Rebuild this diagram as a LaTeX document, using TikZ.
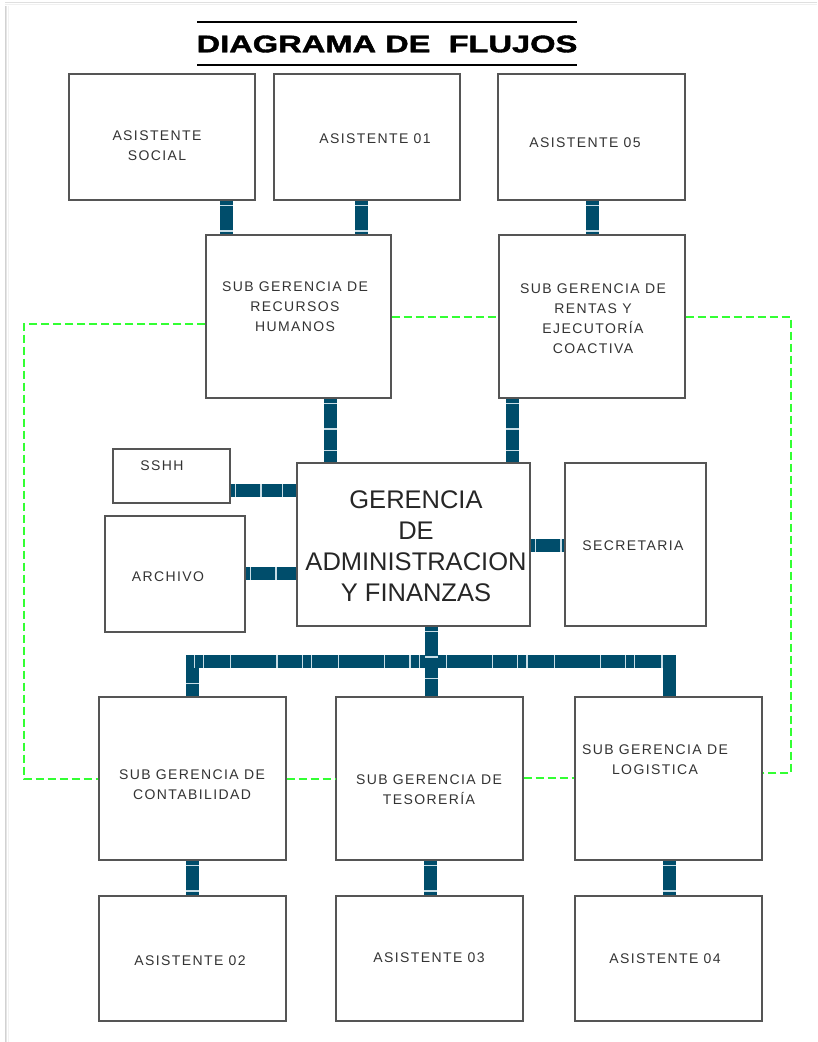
\documentclass[tikz,border=0pt]{standalone}
\usepackage{fontspec}
\setmainfont{Liberation Sans}
\newfontfamily\boxfont{Liberation Sans}[LetterSpace=10]
\newfontfamily\titlefont{Liberation Sans Bold}[FakeBold=1.6]
\usetikzlibrary{calc}
\definecolor{barc}{HTML}{004D6B}
\definecolor{stripe}{HTML}{C8DDE6}
\definecolor{lnk}{HTML}{33FF33}
\definecolor{edge}{HTML}{555555}
\definecolor{txt}{HTML}{333333}
\begin{document}
\begin{tikzpicture}[x=1pt,y=-1pt,
  box/.style={draw=edge, line width=1.3pt, rectangle, inner sep=0pt},
  lbl/.style={font=\boxfont\fontsize{14}{20}\selectfont, text=txt, align=center, inner sep=0pt},
  big/.style={font=\fontsize{25.5}{31}\selectfont, text=black!85, align=center, inner sep=0pt},
  bar/.style={draw=barc, line width=13pt, line join=miter, postaction={draw=stripe, line width=13pt, dash pattern=on 0pt off 4.5pt on 1.2pt off 24pt on 1.2pt off 16pt}},
  bus/.style={draw=barc, line width=13pt, line join=miter, postaction={draw=stripe, line width=13pt, dash pattern=on 0pt off 12pt on 1.2pt off 24pt on 1.2pt off 8pt on 1.2pt off 26pt on 1.2pt off 33pt}},
  link/.style={draw=lnk, line width=1.3pt, dash pattern=on 8pt off 4pt},
  shadow/.style={line width=1pt}]
\useasboundingbox (0,0) rectangle (817,1042);
% page shadow
\draw[shadow, gray!35] (5,6) -- (5,1042);
\draw[shadow, gray!20] (6.5,6) -- (6.5,1042);
\draw[shadow, gray!10] (8,6) -- (8,1042);
\draw[shadow, gray!25] (5,2) -- (817,2);
\draw[shadow, gray!12] (5,4) -- (817,4);
% title
\draw[line width=1.5pt] (197,22) -- (577,22);
\draw[line width=1.5pt] (197,65) -- (577,65);
\node[inner sep=0pt] (title) at (387,44) {\scalebox{1.36}[1]{\fontsize{24}{28}\selectfont\titlefont DIAGRAMA DE\ \ FLUJOS}};
% boxes
\node[box, minimum width=186, minimum height=126] (asocial) at (162,137) {};
\node[box, minimum width=186, minimum height=126] (a01) at (367,137) {};
\node[box, minimum width=187, minimum height=126] (a05) at (591.5,137) {};
\node[box, minimum width=185, minimum height=163] (rrhh) at (298.5,316.5) {};
\node[box, minimum width=186, minimum height=163] (rentas) at (592,316.5) {};
\node[box, minimum width=117, minimum height=54] (sshh) at (171.5,476) {};
\node[box, minimum width=140, minimum height=116] (archivo) at (175,574) {};
\node[box, minimum width=233, minimum height=163] (ger) at (413.5,544.5) {};
\node[box, minimum width=141, minimum height=163] (secre) at (635.5,544.5) {};
\node[box, minimum width=187, minimum height=163] (contab) at (192.5,778.5) {};
\node[box, minimum width=187, minimum height=163] (tesor) at (429.5,778.5) {};
\node[box, minimum width=187, minimum height=163] (logis) at (668.5,778.5) {};
\node[box, minimum width=187, minimum height=125] (a02) at (192.5,958.5) {};
\node[box, minimum width=187, minimum height=125] (a03) at (429.5,958.5) {};
\node[box, minimum width=187, minimum height=125] (a04) at (668.5,958.5) {};
% labels
\node[lbl] (asocial-t) at (157,146) {ASISTENTE\\SOCIAL};
\node[lbl] (a01-t) at (375,139) {ASISTENTE 01};
\node[lbl] (a05-t) at (585,143) {ASISTENTE 05};
\node[lbl] (rrhh-t) at (295,307) {SUB GERENCIA DE\\RECURSOS\\HUMANOS};
\node[lbl] (rentas-t) at (593,319) {SUB GERENCIA DE\\RENTAS Y\\EJECUTORÍA\\COACTIVA};
\node[lbl] (sshh-t) at (162,466) {SSHH};
\node[lbl] (archivo-t) at (168,577) {ARCHIVO};
\node[big] (ger-t) at (416,546) {GERENCIA\\DE\\ADMINISTRACION\\Y FINANZAS};
\node[lbl] (secre-t) at (633,546) {SECRETARIA};
\node[lbl] (contab-t) at (192,785) {SUB GERENCIA DE\\CONTABILIDAD};
\node[lbl] (tesor-t) at (429,790) {SUB GERENCIA DE\\TESORERÍA};
\node[lbl] (logis-t) at (655,760) {SUB GERENCIA DE\\LOGISTICA};
\node[lbl] (a02-t) at (190,961) {ASISTENTE 02};
\node[lbl] (a03-t) at (429,958) {ASISTENTE 03};
\node[lbl] (a04-t) at (665,959) {ASISTENTE 04};
% green dashed links
\draw[link] (rrhh.west |- 0,324) -- (24,324) -- (24,779) -- (contab.west |- 0,779);
\draw[link] (rrhh.east |- 0,317) -- (rentas.west |- 0,317);
\draw[link] (rentas.east |- 0,317) -- (791,317) -- (791,773) -- (logis.east |- 0,773);
\draw[link] (contab.east |- 0,779) -- (tesor.west |- 0,779);
\draw[link] (tesor.east |- 0,778) -- (logis.west |- 0,778);
% thick connectors
\draw[bar] (226,0 |- asocial.south) -- (226,0 |- rrhh.north);
\draw[bar] (361,0 |- a01.south) -- (361,0 |- rrhh.north);
\draw[bar] (592,0 |- a05.south) -- (592,0 |- rentas.north);
\draw[bar] (330,0 |- rrhh.south) -- (330,0 |- ger.north);
\draw[bar] (512,0 |- rentas.south) -- (512,0 |- ger.north);
\draw[bar] (sshh.east |- 0,490) -- (ger.west |- 0,490);
\draw[bar] (archivo.east |- 0,573) -- (ger.west |- 0,573);
\draw[bar] (ger.east |- 0,545) -- (secre.west |- 0,545);
\draw[bus] (192,0 |- contab.north) -- (192,661) -- (669,661) -- (669,0 |- logis.north);
\draw[bar] (431,0 |- ger.south) -- (431,0 |- tesor.north);
\draw[bar] (192,0 |- contab.south) -- (192,0 |- a02.north);
\draw[bar] (430,0 |- tesor.south) -- (430,0 |- a03.north);
\draw[bar] (669,0 |- logis.south) -- (669,0 |- a04.north);
\end{tikzpicture}
\end{document}
